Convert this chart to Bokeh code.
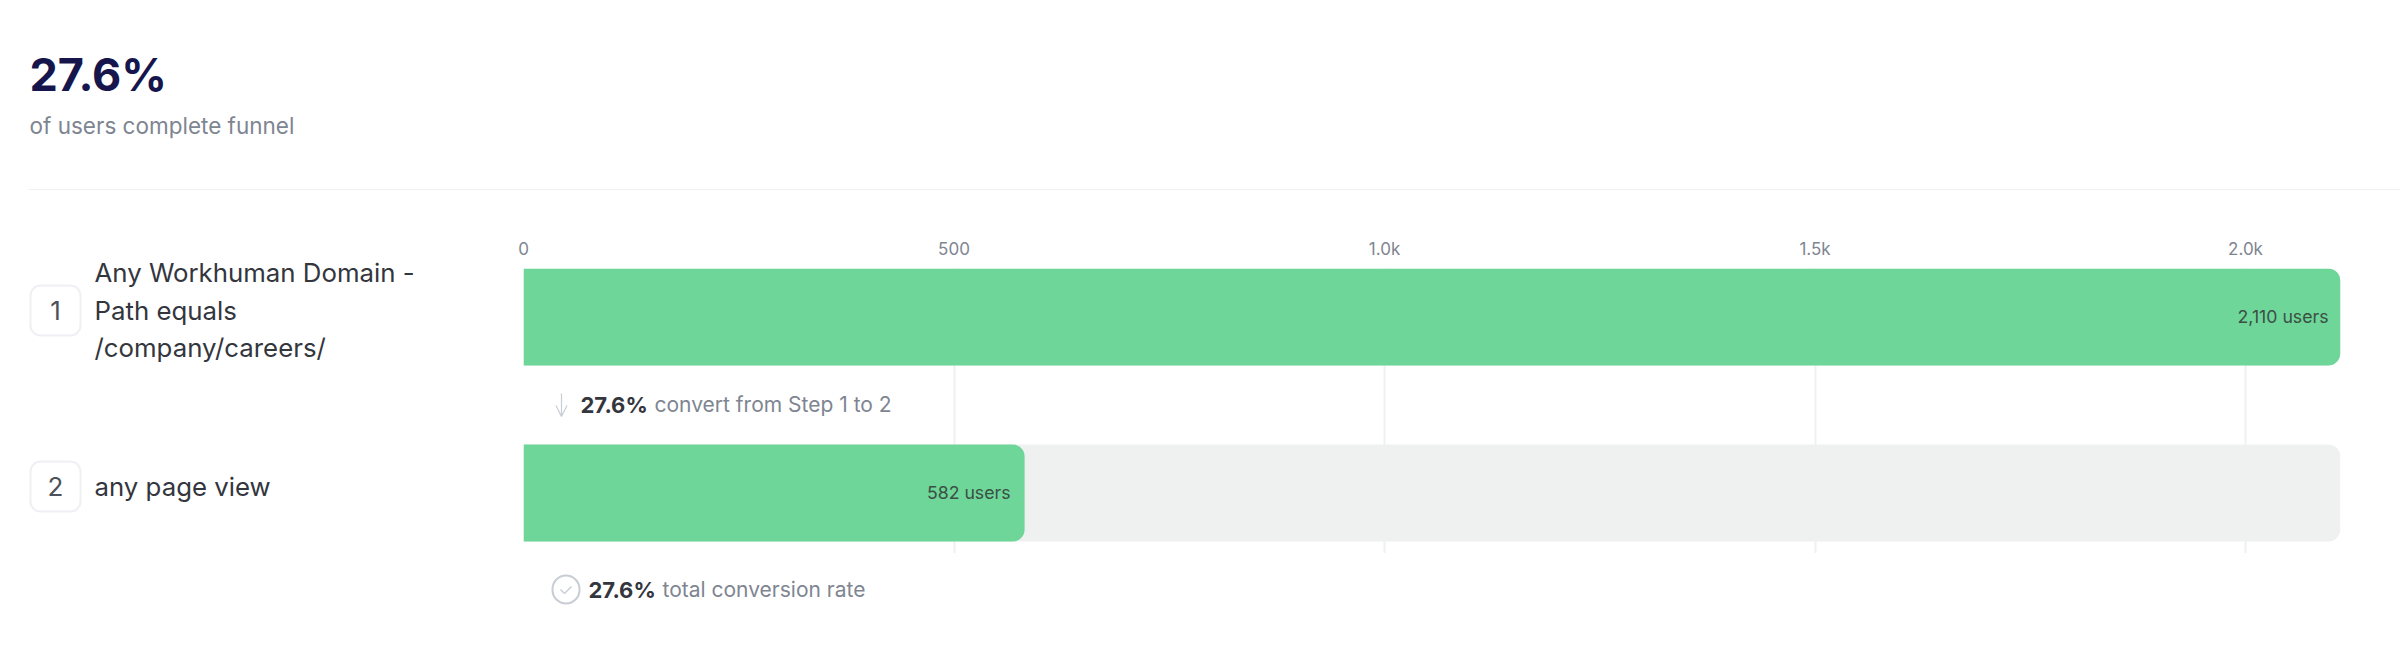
from bokeh.plotting import figure
from bokeh.layouts import column, row
from bokeh.models import Range1d, Label, BoxAnnotation, Arrow, OpenHead, FixedTicker, ColumnDataSource
from bokeh.embed import file_html
from bokeh.resources import INLINE

# ---- data ----
steps = [1, 2]
users = [2110, 582]
track = [2110, 2110]
bar_labels = ["2,110 users", "582 users"]
tick_values = [0, 500, 1000, 1500, 2000]
tick_labels = {0: "0", 500: "500", 1000: "1.0k", 1500: "1.5k", 2000: "2.0k"}
headline = "27.6%"
subtitle = "of users complete funnel"
step_names = [["Any Workhuman Domain -", "Path equals", "/company/careers/"], ["any page view"]]
step_rate = "27.6%"
step_text = "convert from Step 1 to 2"
total_text = "total conversion rate"

# ---- page geometry ----
FONT = "Inter"
L, T, R, B = 523, 268, 2343, 553
W, H = 2400, 640
SPLIT_X, SPLIT_Y = 500, 230
GREEN, TRACK, GRID = "#6dd698", "#eff1f0", "#eff0f4"

def panel(w, h):
    f = figure(width=w, height=h, output_backend="svg", toolbar_location=None,
               x_axis_location=None, y_axis_location=None, outline_line_color=None,
               x_range=Range1d(0, w), y_range=Range1d(h, 0),
               min_border=0, frame_align=False)
    f.grid.visible = False
    return f

head = panel(W, SPLIT_Y)
side = panel(SPLIT_X, B - SPLIT_Y)
foot = panel(W, H - B)

p = figure(width=W - SPLIT_X, height=B - SPLIT_Y, output_backend="svg", toolbar_location=None,
           x_axis_location="above", y_axis_location=None, outline_line_color=None,
           x_range=Range1d(0, 2113.8), y_range=Range1d(2.344, 0.7244),
           min_border_left=L - SPLIT_X, min_border_right=W - R,
           min_border_top=T - SPLIT_Y, min_border_bottom=0, frame_align=False)
p.ygrid.visible = False
ax = p.xaxis[0]
ax.ticker = FixedTicker(ticks=tick_values)
ax.major_label_overrides = tick_labels
ax.axis_line_color = None
ax.major_tick_line_color = None
ax.minor_tick_line_color = None
ax.major_label_text_font = FONT
ax.major_label_text_font_size = "17px"
ax.major_label_text_color = "#7e8591"
ax.major_label_standoff = 4
g = p.xgrid[0]
g.ticker = FixedTicker(ticks=tick_values)
g.grid_line_color = GRID
g.grid_line_width = 2

src = ColumnDataSource(dict(y=steps, users=users, track=track))
p.hbar(y="y", left=0, right="track", height=0.551, source=src, fill_color=TRACK, line_color=None,
       border_radius=(0, 12, 12, 0))
p.hbar(y="y", left=0, right="users", height=0.551, source=src, fill_color=GREEN, line_color=None,
       border_radius=(0, 12, 12, 0))

def offsets(f):
    if f is side: return 0, SPLIT_Y
    if f is p: return SPLIT_X, SPLIT_Y
    if f is foot: return 0, B
    return 0, 0

def label(f, text, x, y, size, color, weight="normal", align="left", baseline="middle"):
    ox, oy = offsets(f)
    f.add_layout(Label(x=x - ox, y=y - oy, x_units="canvas", y_units="canvas", text=text,
                       text_font=FONT, text_font_size=f"{size}px", text_color=color,
                       text_font_style=weight, text_align=align, text_baseline=baseline))

def seg(f, x0, y0, x1, y1, color, width=1.5, tip=None):
    ox, oy = offsets(f)
    f.add_layout(Arrow(x_start=x0 - ox, y_start=y0 - oy, x_end=x1 - ox, y_end=y1 - oy,
                       start_units="canvas", end_units="canvas", line_color=color, line_width=width, end=tip))

def box(f, x0, y0, x1, y1, radius, line):
    ox, oy = offsets(f)
    f.add_layout(BoxAnnotation(left=x0 - ox, right=x1 - ox, top=y0 - oy, bottom=y1 - oy,
                               left_units="canvas", right_units="canvas", top_units="canvas", bottom_units="canvas",
                               fill_alpha=0, line_color=line, line_width=2, border_radius=radius, line_alpha=1))

label(head, headline, 29, 74, 45, "#16164d", "bold")
label(head, subtitle, 29, 125, 22.5, "#7e8591")
seg(head, 28, 189, 2400, 189, "#f0f1f3", 1)

box(side, 30, 285, 80, 335, 10, "#eff0f4")
box(side, 30, 461, 80, 511, 10, "#eff0f4")
label(side, "1", 55, 310, 26, "#4d5159", align="center")
label(side, "2", 55, 486, 26, "#4d5159", align="center")

ys = [272, 310, 347]
for t, y in zip(step_names[0], ys):
    label(side, t, 94, y, 25.8, "#33363d")
label(side, step_names[1][0], 94, 486, 25.8, "#33363d")

label(p, bar_labels[0], 2328, 316, 17.7, "#3b4f45", align="right")
label(p, bar_labels[1], 1010, 492, 17.7, "#3b4f45", align="right")

seg(p, 561, 393, 561, 416, "#c8ccd4", 1.2, OpenHead(size=11, line_color="#c8ccd4", line_width=1.2))
label(p, step_rate, 580, 404, 22, "#33363d", "bold")
label(p, step_text, 654, 404, 21, "#7e8591")

box(foot, 552, 575, 579, 603, 14, "#c8ccd4")
seg(foot, 560, 589, 564, 593, "#c8ccd4", 1.5)
seg(foot, 564, 593, 571, 586, "#c8ccd4", 1.5)
label(foot, step_rate, 588, 589, 22, "#33363d", "bold")
label(foot, total_text, 662, 589, 21, "#7e8591")

page = column(head, row(side, p, spacing=0), foot, spacing=0)
open("out.html", "w").write(file_html(page, INLINE))
